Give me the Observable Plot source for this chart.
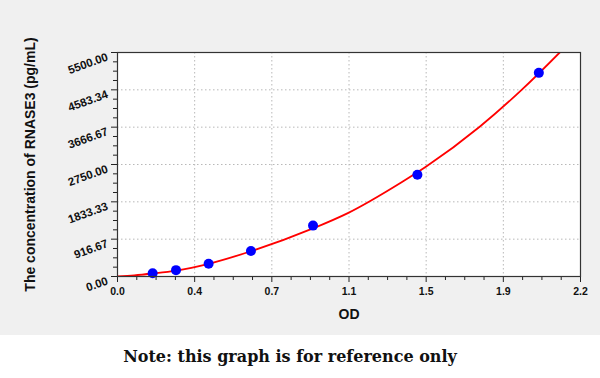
<!DOCTYPE html>
<html>
<head>
<meta charset="utf-8">
<script src="https://cdn.jsdelivr.net/npm/d3@7"></script>
<script src="https://cdn.jsdelivr.net/npm/@observablehq/plot@0.6"></script>
<style>
  html, body { margin: 0; padding: 0; background: #ffffff; }
  #wrap { width: 600px; }
  #wrap svg, #wrap svg text { font-family: "Liberation Sans", Arial, sans-serif !important; }
  #wrap svg#caption text { font-family: "DejaVu Serif", serif !important; }
  #caption { display: block; }
</style>
</head>
<body>
<div id="wrap"></div>
<script>
// Standard points (OD, concentration pg/mL)
const od   = [0.167, 0.278, 0.433, 0.634, 0.929, 1.425, 2.002];
const conc = [78.125, 156.25, 312.5, 625, 1250, 2500, 5000];

// Fitted curve
const curveOD   = [0, 0.08, 0.167, 0.278, 0.433, 0.634, 0.929, 1.0945, 1.348, 1.467, 1.721, 1.919, 2.101, 2.12];
const curveConc = [0, 28, 74, 145, 312, 620, 1180, 1556, 2308, 2700, 3676, 4577, 5500, 5600];

// Axis ticks and labels
const xTicks  = [0, 0.36667, 0.73333, 1.1, 1.46667, 1.83333, 2.2];
const xLabels = ["0.0", "0.4", "0.7", "1.1", "1.5", "1.9", "2.2"];
const yTicks  = [0, 916.67, 1833.33, 2750, 3666.67, 4583.34, 5500];
const yLabels = ["0.00", "916.67", "1833.33", "2750.00", "3666.67", "4583.34", "5500.00"];

const xTitle = "OD";
const yTitle = "The concentration of RNASE3 (pg/mL)";
const note = "Note: this graph is for reference only";

const points = od.map((d, i) => ({od: d, conc: conc[i]}));
const curve = curveOD.map((d, i) => ({od: d, conc: curveConc[i]}));

// minor ticks: 3 between each pair of majors
const sub = (ticks) => {
  const out = [];
  for (let i = 0; i < ticks.length - 1; i++) {
    for (let k = 1; k < 4; k++) out.push(ticks[i] + (ticks[i + 1] - ticks[i]) * k / 4);
  }
  return out;
};
const xMinor = sub(xTicks);
const yMinor = sub(yTicks);

const font = "Liberation Sans, Arial, sans-serif";

const chart = Plot.plot({
  width: 600,
  height: 335,
  marginTop: 52,
  marginRight: 20,
  marginBottom: 59,
  marginLeft: 117,
  style: {background: "#f0f0f0", overflow: "visible", fontFamily: font},
  x: {domain: [0, 2.2], axis: null},
  y: {domain: [0, 5500], axis: null},
  marks: [
    Plot.frame({fill: "#ffffff"}),
    Plot.gridX(xTicks.slice(1, -1), {stroke: "#b8b8b8", strokeOpacity: 1, strokeDasharray: "1.5,2.5"}),
    Plot.gridY(yTicks.slice(1, -1), {stroke: "#b8b8b8", strokeOpacity: 1, strokeDasharray: "1.5,2.5"}),
    // ticks
    Plot.axisX({ticks: xTicks, tickSize: 6, tickFormat: (d, i) => xLabels[i], tickPadding: 5,
      fontSize: 10.5, fontWeight: "bold", fontFamily: font, fill: "#111", stroke: "#222", label: null}),
    Plot.axisX({ticks: xMinor, tickSize: 4, tickFormat: () => "", label: null, stroke: "#222"}),
    Plot.axisY({ticks: yTicks, tickSize: 6, tickFormat: () => "", label: null, stroke: "#222"}),
    Plot.axisY({ticks: yMinor, tickSize: 4, tickFormat: () => "", label: null, stroke: "#222"}),
    Plot.text(yTicks, {y: d => d, frameAnchor: "left", text: (d, i) => yLabels[i],
      rotate: -20, textAnchor: "end", dx: -10, dy: 4, fontSize: 11.5, fontWeight: "bold", fontFamily: font, fill: "#111"}),
    // curve and points
    Plot.line(curve, {x: "od", y: "conc", stroke: "#ff0000", strokeWidth: 1.8, curve: "monotone-x", clip: true}),
    Plot.dot(points, {x: "od", y: "conc", r: 5, fill: "#0000ff", stroke: null}),
    Plot.frame({stroke: "#333", strokeWidth: 1.2}),
    // titles
    Plot.text([xTitle], {frameAnchor: "bottom", dy: 42, fontSize: 14, fontWeight: "bold", fontFamily: font, fill: "#111"}),
    Plot.text([yTitle], {frameAnchor: "left", textAnchor: "middle", dx: -87, rotate: -90, fontSize: 14, fontWeight: "bold", fontFamily: font, fill: "#111"})
  ]
});

const wrap = document.getElementById("wrap");
wrap.appendChild(chart);

const ns = "http://www.w3.org/2000/svg";
const cap = document.createElementNS(ns, "svg");
cap.setAttribute("id", "caption");
cap.setAttribute("width", 600);
cap.setAttribute("height", 43);
const t = document.createElementNS(ns, "text");
t.setAttribute("x", 290);
t.setAttribute("y", 27);
t.setAttribute("text-anchor", "middle");
t.setAttribute("font-family", "DejaVu Serif, serif");
t.setAttribute("font-weight", "bold");
t.setAttribute("font-size", 16);
t.setAttribute("fill", "#111");
t.textContent = note;
cap.appendChild(t);
wrap.appendChild(cap);
</script>
</body>
</html>
